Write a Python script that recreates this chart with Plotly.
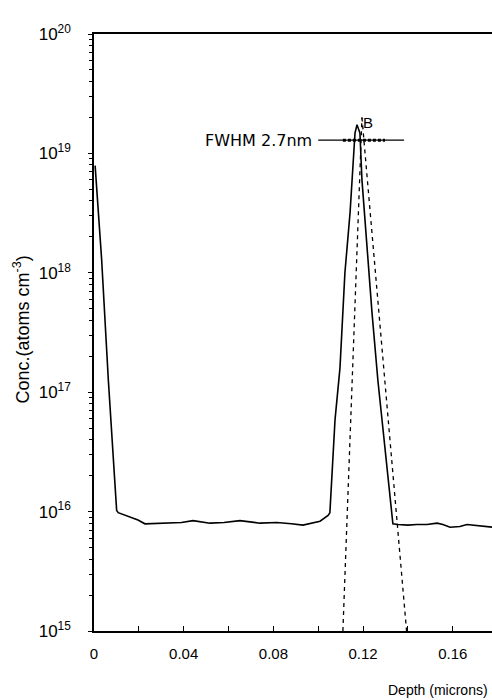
import plotly.graph_objects as go

# Measured SIMS profile (solid)
depth_um = [0.0005, 0.0012, 0.0034, 0.0064, 0.0101, 0.0108, 0.0151, 0.0196, 0.0227,
            0.0280, 0.0339, 0.0390, 0.0442, 0.0517, 0.0580, 0.0651, 0.0740, 0.0816,
            0.0880, 0.0932, 0.1008, 0.1044, 0.1052, 0.1075, 0.1097, 0.1119, 0.1142,
            0.1151, 0.1164, 0.1173, 0.1186, 0.1195, 0.1217, 0.1240, 0.1266, 0.1298,
            0.1329, 0.1333, 0.1356, 0.1400, 0.1440, 0.1485, 0.1530, 0.1556, 0.1588,
            0.1632, 0.1663, 0.1720, 0.1780]
conc = [7.9e18, 4.9e18, 1.3e18, 1.26e17, 1.02e16, 9.8e15, 9.1e15, 8.5e15, 7.9e15,
        8.0e15, 8.0e15, 8.1e15, 8.4e15, 8.0e15, 8.1e15, 8.4e15, 8.0e15, 8.1e15,
        7.9e15, 7.7e15, 8.3e15, 9.3e15, 9.8e15, 5.9e16, 1.6e17, 1.0e18, 3.2e18,
        6.0e18, 1.48e19, 1.74e19, 1.48e19, 6.0e18, 1.66e18, 4.6e17, 1.26e17, 3.5e16,
        9.8e15, 7.9e15, 7.8e15, 7.7e15, 7.8e15, 7.8e15, 8.0e15, 7.8e15, 7.4e15,
        7.5e15, 7.8e15, 7.6e15, 7.4e15]

# Exponential leading / trailing edge fits (dashed)
fit_lead_x = [0.1110, 0.1195]
fit_lead_y = [1e15, 2e19]
fit_trail_x = [0.1195, 0.1394]
fit_trail_y = [2e19, 1e15]

# FWHM marker line
fwhm_x = [0.1000, 0.1383]
fwhm_y = [1.29e19, 1.29e19]
fwhm_bar_x = [0.1110, 0.1298]
fwhm_bar_y = [1.29e19, 1.29e19]

x_tickvals = [0, 0.04, 0.08, 0.12, 0.16]
x_ticktext = ["0", "0.04", "0.08", "0.12", "0.16"]
y_tickvals = [1e15, 1e16, 1e17, 1e18, 1e19, 1e20]
y_ticktext = ["10<sup>15</sup>", "10<sup>16</sup>", "10<sup>17</sup>",
              "10<sup>18</sup>", "10<sup>19</sup>", "10<sup>20</sup>"]

FONT = "Liberation Sans"

fig = go.Figure()
fig.add_trace(go.Scatter(x=depth_um, y=conc, mode="lines",
                         line=dict(color="black", width=1.6), showlegend=False))
fig.add_trace(go.Scatter(x=fit_lead_x, y=fit_lead_y, mode="lines",
                         line=dict(color="black", width=1.3, dash="4px,4px"), showlegend=False))
fig.add_trace(go.Scatter(x=fit_trail_x, y=fit_trail_y, mode="lines",
                         line=dict(color="black", width=1.3, dash="4px,4px"), showlegend=False))
fig.add_trace(go.Scatter(x=fwhm_x, y=fwhm_y, mode="lines",
                         line=dict(color="black", width=1.2), showlegend=False))
fig.add_trace(go.Scatter(x=fwhm_bar_x, y=fwhm_bar_y, mode="lines",
                         line=dict(color="black", width=3, dash="3px,2px"), showlegend=False))

fig.add_annotation(x=fwhm_x[0], y=19.11, xref="x", yref="y", text="FWHM 2.7nm",
                   showarrow=False, xanchor="right", yanchor="middle", xshift=-4,
                   font=dict(family="DejaVu Sans", size=16, color="black"))
fig.add_annotation(x=0.1222, y=19.26, xref="x", yref="y", text="B",
                   showarrow=False, xanchor="center", yanchor="middle",
                   font=dict(family=FONT, size=15, color="black"))
fig.add_annotation(x=-72 / 398, y=0.505, xref="paper", yref="paper",
                   text="Conc.(atoms cm<sup>-3</sup>)", textangle=-90,
                   showarrow=False, xanchor="center", yanchor="middle",
                   font=dict(family=FONT, size=18, color="black"))
fig.add_annotation(x=1, y=-59 / 597, xref="paper", yref="paper",
                   text="Depth (microns)", showarrow=False,
                   xanchor="right", yanchor="middle", xshift=-2,
                   font=dict(family=FONT, size=14, color="black"))

fig.update_xaxes(range=[0, 0.1775], tickvals=x_tickvals, ticktext=x_ticktext,
                 ticks="inside", ticklen=5, tickwidth=1, tickcolor="black",
                 showline=True, linecolor="black", linewidth=1.5, mirror=True,
                 showgrid=False, zeroline=False, ticklabelstandoff=8,
                 minor=dict(tickvals=[0.02, 0.06, 0.10, 0.14], ticks="inside",
                            ticklen=5, tickcolor="black", showgrid=False),
                 tickfont=dict(family=FONT, size=15, color="black"))
fig.update_yaxes(type="log", range=[15, 20], tickvals=y_tickvals, ticktext=y_ticktext,
                 ticks="outside", ticklen=4, tickwidth=1, tickcolor="black",
                 showline=True, linecolor="black", linewidth=1.5, mirror=False,
                 showgrid=False, zeroline=False, ticklabelstandoff=14,
                 minor=dict(dtick="D1", ticks="outside", ticklen=3,
                            tickcolor="black", showgrid=False),
                 tickfont=dict(family=FONT, size=17, color="black"))

fig.update_layout(width=492, height=700,
                  margin=dict(l=94, r=0, t=34, b=69),
                  plot_bgcolor="white", paper_bgcolor="white",
                  font=dict(family=FONT, color="black"))

fig.write_html("out.html", config={"displayModeBar": False},
               post_script="document.body.style.margin='0';")
